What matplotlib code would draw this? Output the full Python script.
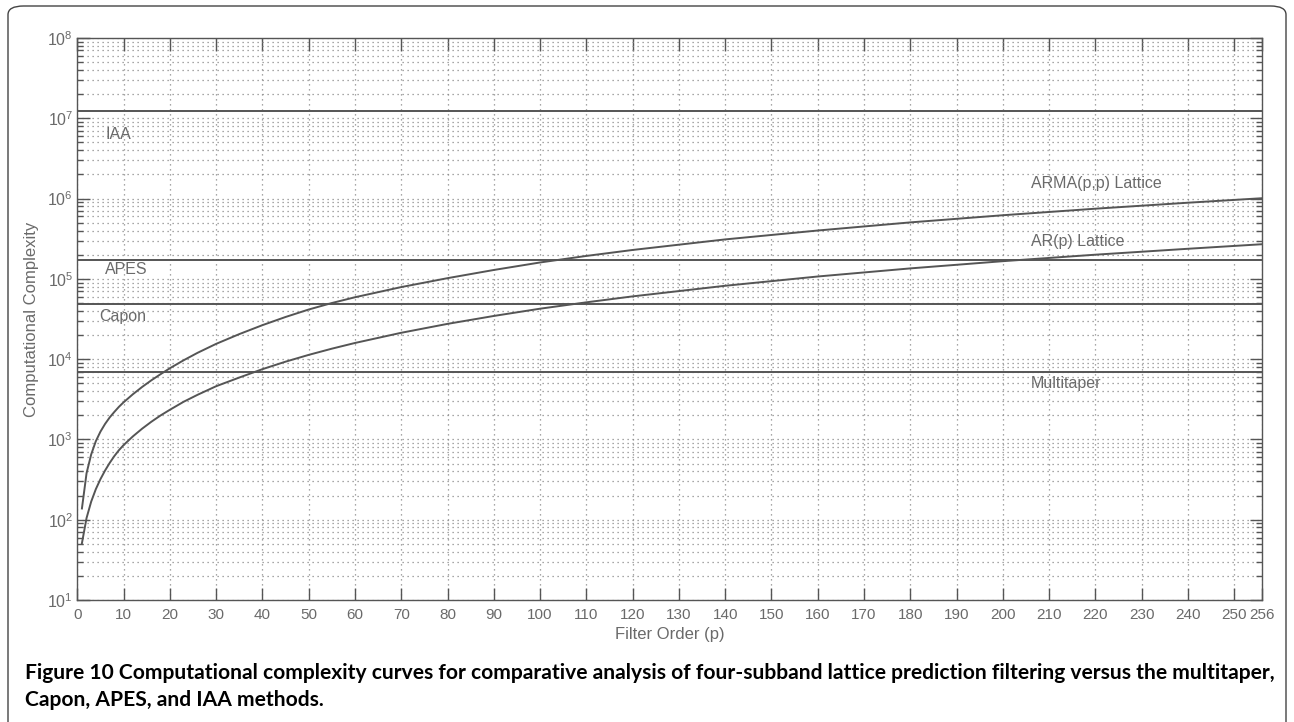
import numpy as np
import matplotlib
matplotlib.use("Agg")
import matplotlib.pyplot as plt
from matplotlib.patches import FancyBboxPatch
from matplotlib.ticker import LogLocator, NullFormatter

plt.rcParams["font.family"] = ["Liberation Sans", "DejaVu Sans"]
plt.rcParams["mathtext.fontset"] = "custom"
plt.rcParams["mathtext.rm"] = "Liberation Sans"

# filter order samples and complexity
orders = [1, 2, 3, 4, 5, 6, 7, 8, 9, 10, 12, 14, 16, 18, 20, 23, 26, 30, 35, 40,
          45, 50, 55, 60, 70, 80, 90, 100, 110, 120, 140, 160, 180, 200, 220, 240, 256]
arma_lattice = [138, 380, 650, 950, 1250, 1560, 1880, 2200, 2550, 2900, 3650, 4500,
                5450, 6500, 7700, 9700, 12000, 15500, 20500, 26500, 33500, 41500,
                50000, 59000, 79000, 102000, 129000, 160000, 193000, 229000, 310000,
                400000, 505000, 620000, 748000, 888000, 1010000]
ar_lattice = [51, 105, 168, 240, 320, 410, 510, 620, 735, 850, 1090, 1360, 1660, 1990,
              2340, 2950, 3600, 4600, 5900, 7500, 9300, 11300, 13500, 15900, 21300,
              27500, 34500, 42500, 51000, 60500, 82000, 107000, 135000, 166000,
              200000, 237000, 270000]

# constant-cost methods
methods = ["IAA", "APES", "Capon", "Multitaper"]
method_costs = [1.22e7, 1.7e5, 4.8e4, 6.9e3]

x_ticks = list(range(0, 251, 10)) + [256]

line_color = "#555555"
text_color = "#6a6a6a"

fig = plt.figure(figsize=(12.94, 7.22), dpi=100)

# rounded frame around figure + caption
frame = FancyBboxPatch((8 / 1294, -0.05), 1278 / 1294, 1.05 - 6 / 722,
                       boxstyle="round,pad=0,rounding_size=0.012",
                       transform=fig.transFigure, fill=False,
                       edgecolor="#444444", linewidth=1.0)
fig.patches.append(frame)

ax = fig.add_axes([77.3 / 1294, 1 - 600 / 722, (1262 - 77.3) / 1294, (600 - 38) / 722])
ax.set_yscale("log")
ax.set_xlim(0, 256)
ax.set_ylim(1e1, 1e8)

for cost in method_costs:
    ax.axhline(cost, color=line_color, linewidth=1.4, zorder=3)

ax.plot(orders, arma_lattice, color=line_color, linewidth=1.4, zorder=3)
ax.plot(orders, ar_lattice, color=line_color, linewidth=1.4, zorder=3)

# curve / method labels
label_kw = dict(color=text_color, fontsize=11.5, zorder=4)
ax.text(6, 6.2e6, "IAA", va="center", **label_kw)
ax.text(6, 1.3e5, "APES", va="center", **label_kw)
ax.text(4.8, 3.4e4, "Capon", va="center", **label_kw)
ax.text(206, 5.0e3, "Multitaper", va="center", **label_kw)
ax.text(206, 1.55e6, "ARMA(p,p) Lattice", va="center", **label_kw)
ax.text(206, 2.9e5, "AR(p) Lattice", va="center", **label_kw)

ax.set_xticks(x_ticks)
ax.yaxis.set_major_locator(LogLocator(base=10, numticks=10))
ax.yaxis.set_minor_locator(LogLocator(base=10, subs=np.arange(2, 10), numticks=100))
ax.yaxis.set_minor_formatter(NullFormatter())

ax.grid(which="major", axis="both", linestyle=(0, (1, 3)), color="#8a8a8a", linewidth=0.9)
ax.grid(which="minor", axis="y", linestyle=(0, (1, 3)), color="#8a8a8a", linewidth=0.9)

ax.tick_params(which="major", direction="in", length=9, width=1.0, color="#555555",
               top=True, right=True, labelsize=11, labelcolor=text_color)
ax.tick_params(axis="x", which="major", pad=6)
ax.tick_params(axis="y", which="major", pad=3, labelsize=11.5)
ax.tick_params(which="minor", direction="in", length=4.5, width=1.0, color="#555555",
               top=True, right=True)
for spine in ax.spines.values():
    spine.set_color("#555555")
    spine.set_linewidth(1.0)

ax.set_xlabel("Filter Order (p)", fontsize=12, color=text_color, labelpad=3)
ax.set_ylabel("Computational Complexity", fontsize=12, color=text_color, labelpad=6)

caption = ("Figure 10 Computational complexity curves for comparative analysis of "
           "four-subband lattice prediction filtering versus the multitaper,\n"
           "Capon, APES, and IAA methods.")
fig.text(25 / 1294, 1 - 686.5 / 722, caption, fontsize=15.1, fontweight="bold",
         family=["Lato", "DejaVu Sans"], va="center", ha="left", color="black",
         linespacing=1.38)

fig.savefig("out.png", dpi=100)
